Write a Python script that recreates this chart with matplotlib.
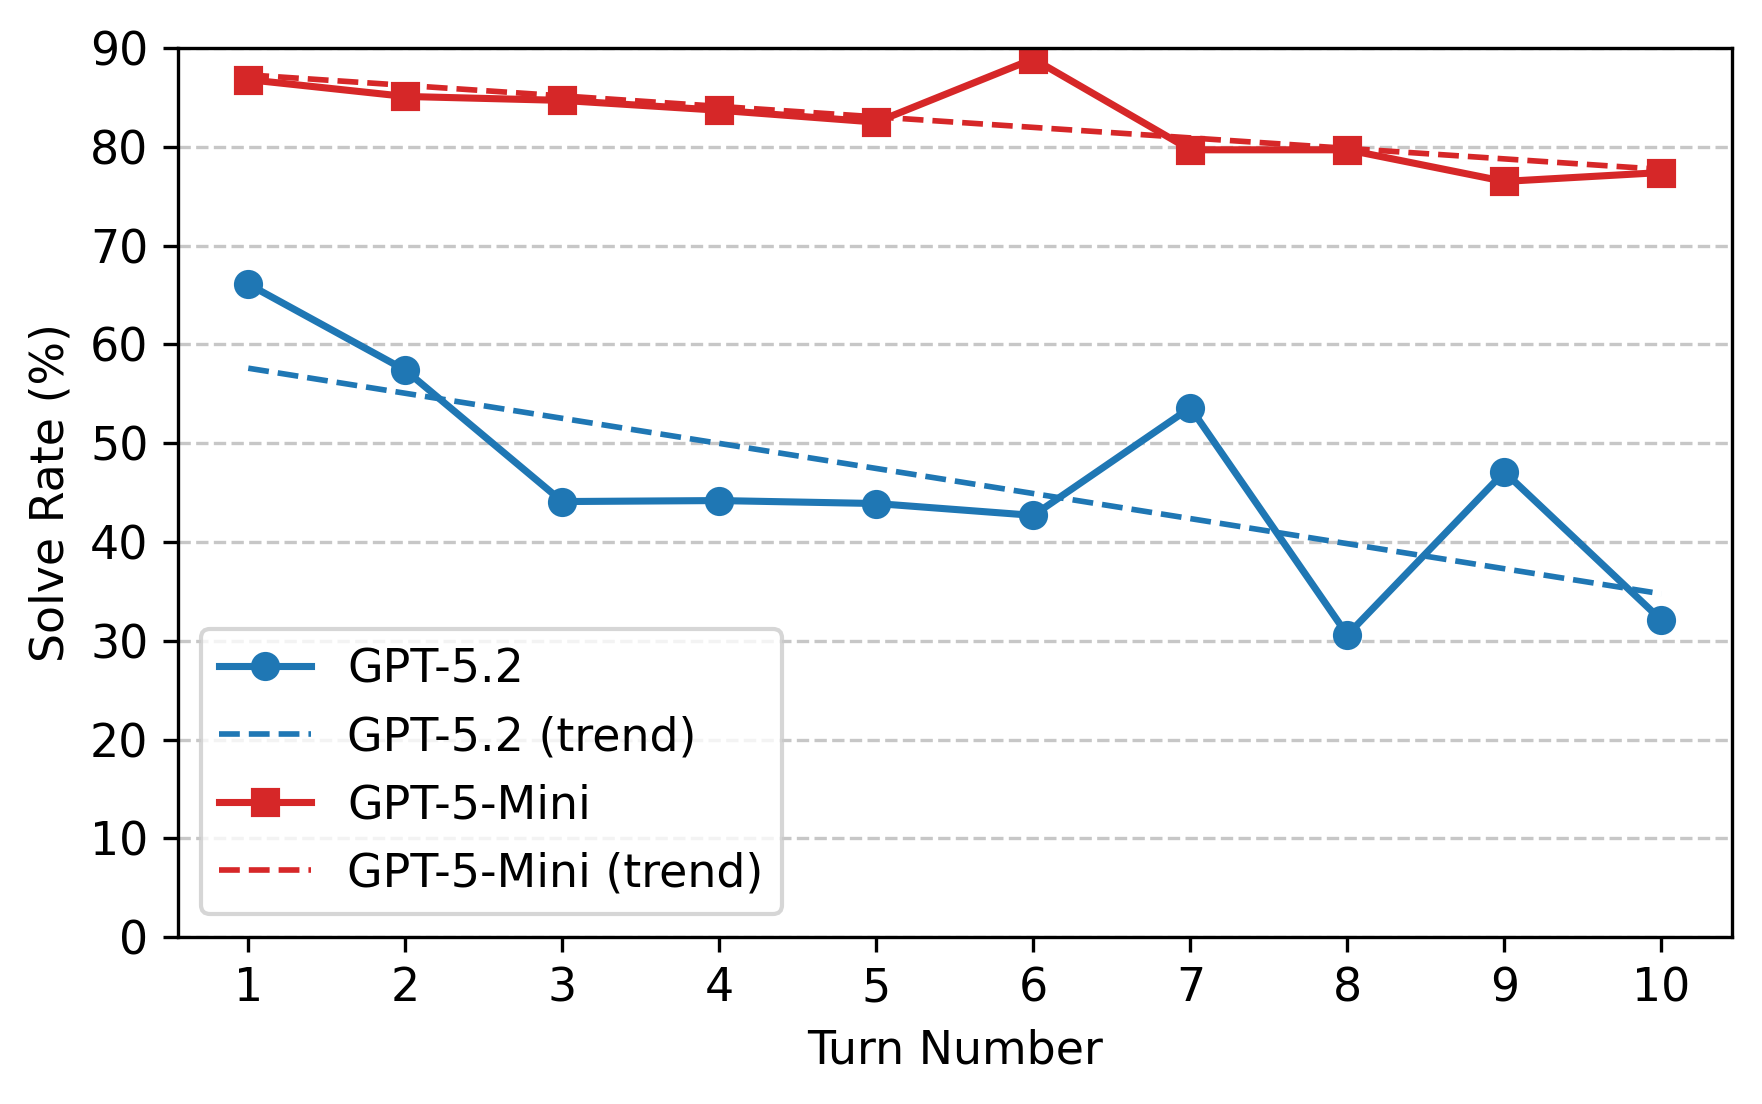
import numpy as np
import matplotlib
matplotlib.use("Agg")
import matplotlib.pyplot as plt

# ── Data ───────────────────────────────────────────────────────────────────────
turns = [1, 2, 3, 4, 5, 6, 7, 8, 9, 10]
gpt52 = [66.1, 57.4, 44.1, 44.2, 43.9, 42.7, 53.6, 30.6, 47.1, 32.1]
gpt5mini = [86.8, 85.1, 84.7, 83.7, 82.5, 88.9, 79.7, 79.7, 76.5, 77.4]

BLUE = "#1f77b4"
RED = "#d62728"

plt.rcParams["font.family"] = ["DejaVu Sans"]
plt.rcParams["font.size"] = 11

fig, ax = plt.subplots(figsize=(1762 / 300, 1104 / 300), dpi=300)
fig.subplots_adjust(left=0.1008, right=0.983, top=0.9565, bottom=0.151)

x = np.array(turns)


def trend(y):
    # least-squares linear fit over the turns
    k, b = np.polyfit(x, y, 1)
    return k * x + b


ax.plot(x, gpt52, color=BLUE, marker="o", markersize=6, linewidth=1.7,
        label="GPT-5.2")
ax.plot(x, trend(gpt52), color=BLUE, linestyle="--", linewidth=1.35,
        label="GPT-5.2 (trend)")
ax.plot(x, gpt5mini, color=RED, marker="s", markersize=6, linewidth=1.7,
        label="GPT-5-Mini")
ax.plot(x, trend(gpt5mini), color=RED, linestyle="--", linewidth=1.35,
        label="GPT-5-Mini (trend)")

ax.set_ylim(0, 90)
ax.set_xticks(turns)
ax.set_yticks(range(0, 91, 10))
ax.grid(axis="y", linestyle="--", color="#b0b0b0", alpha=0.7, linewidth=0.8)
ax.set_axisbelow(True)

ax.set_xlabel("Turn Number")
ax.set_ylabel("Solve Rate (%)")
ax.legend(loc="lower left", fontsize=11)

fig.savefig("out.png", dpi=300)
